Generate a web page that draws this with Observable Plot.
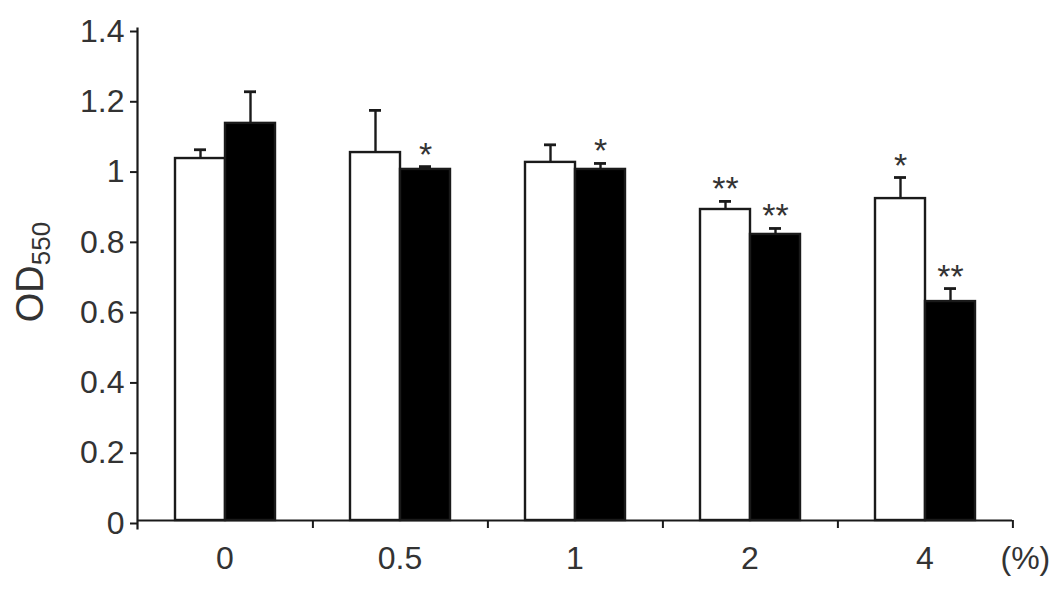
<!DOCTYPE html>
<html>
<head>
<meta charset="utf-8">
<script src="https://cdn.jsdelivr.net/npm/d3@7"></script>
<script src="https://cdn.jsdelivr.net/npm/@observablehq/plot@0.6"></script>
<style>
  html, body { margin: 0; padding: 0; background: #fff; }
  svg { display: block; }
</style>
</head>
<body>
<div id="chart"></div>
<script>
// ---- data ----
const categories = ["0", "0.5", "1", "2", "4"];
const series = ["white", "black"];
const whiteValues = [1.03, 1.047, 1.019, 0.885, 0.916];
const whiteErrors = [0.025, 0.12, 0.05, 0.023, 0.06];
const whiteSig = ["", "", "", "**", "*"];
const blackValues = [1.13, 0.999, 0.999, 0.814, 0.623];
const blackErrors = [0.09, 0.008, 0.017, 0.017, 0.037];
const blackSig = ["", "*", "*", "**", "**"];
const yTicks = [0, 0.2, 0.4, 0.6, 0.8, 1.0, 1.2, 1.4];
const yTickLabels = ["0", "0.2", "0.4", "0.6", "0.8", "1", "1.2", "1.4"];
const unitLabel = "(%)";

const rows = [];
categories.forEach((c, i) => {
  rows.push({cat: c, series: "white", value: whiteValues[i], err: whiteErrors[i], sig: whiteSig[i]});
  rows.push({cat: c, series: "black", value: blackValues[i], err: blackErrors[i], sig: blackSig[i]});
});

const W = 1063, H = 591;
const mL = 135, mR = 49, mT = 28, mB = 71;
const bw = (W - mL - mR) / categories.length;
const ink = "#1a1a1a";
const font = "'Liberation Sans', Arial, sans-serif";

const plot = Plot.plot({
  width: W,
  height: H,
  marginLeft: mL,
  marginRight: mR,
  marginTop: mT,
  marginBottom: mB,
  style: {fontFamily: font, color: "#333", background: "#fff", overflow: "visible"},
  fx: {domain: categories, padding: 0, label: null, axis: null},
  x: {domain: series, paddingInner: 0, paddingOuter: 0.74, axis: null},
  y: {domain: [0, 1.4], axis: null},
  color: {domain: series, range: ["#ffffff", "#000000"]},
  marks: [
    Plot.barY(rows, {fx: "cat", x: "series", y: "value", fill: "series", stroke: ink, strokeWidth: 2.4}),
    Plot.ruleX(rows, {fx: "cat", x: "series", y1: "value", y2: d => d.value + d.err, stroke: ink, strokeWidth: 2.4}),
    Plot.tickY(rows, {fx: "cat", x: "series", y: d => d.value + d.err, stroke: ink, strokeWidth: 2.8, insetLeft: 19, insetRight: 19}),
    Plot.text(rows, {fx: "cat", x: "series", y: d => d.value + d.err, text: "sig", fontSize: 34, lineAnchor: "bottom", dy: -1, fill: "#333"}),
    Plot.ruleY([0], {stroke: ink, strokeWidth: 2.2}),
    Plot.frame({anchor: "left", facetAnchor: "left", stroke: ink, strokeWidth: 2.2, insetBottom: -8}),
    Plot.axisY({ticks: yTicks, tickFormat: (d, i) => yTickLabels[i], tickSize: 7, tickPadding: 6, fontSize: 32, dy: 3, label: null, stroke: ink, strokeWidth: 2}),
    Plot.axisFx({anchor: "bottom", tickSize: 8, text: null, label: null, dx: bw / 2, stroke: ink, strokeWidth: 2}),
    Plot.axisFx({anchor: "bottom", tickSize: 0, tickPadding: 26, fontSize: 32, label: null}),
    Plot.text([unitLabel], {frameAnchor: "bottom-right", facet: "super", textAnchor: "start", lineAnchor: "top", dx: -12, dy: 26, fontSize: 32, fill: "#333"})
  ]
});

document.getElementById("chart").appendChild(plot);

// y-axis title with subscript
const svg = d3.select(plot.tagName.toLowerCase() === "svg" ? plot : plot.querySelector("svg"));
const t = svg.append("text")
  .attr("transform", "translate(43,272) rotate(-90)")
  .attr("text-anchor", "middle")
  .attr("font-family", font)
  .attr("fill", "#333");
t.append("tspan").attr("font-size", 38).text("OD");
t.append("tspan").attr("font-size", 26).attr("dy", 7).text("550");
</script>
</body>
</html>
